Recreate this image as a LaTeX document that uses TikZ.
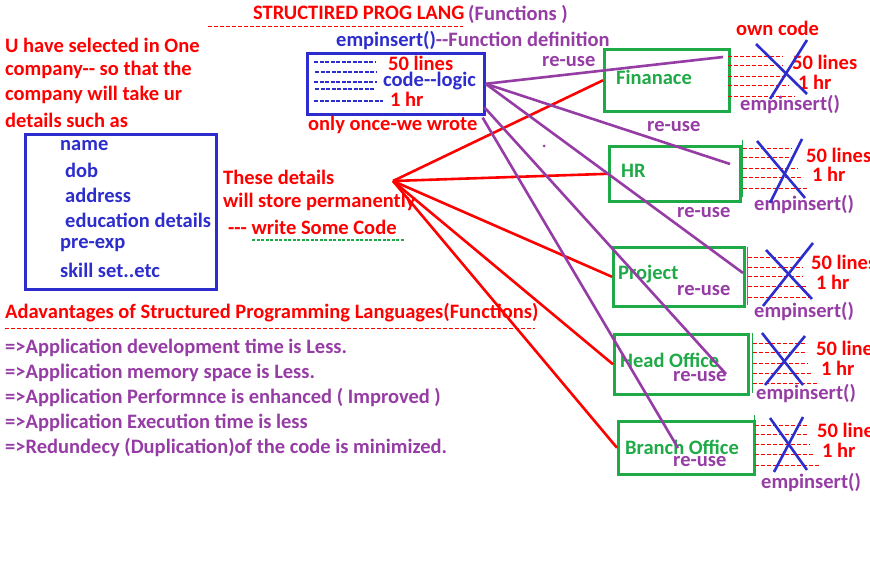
\documentclass[tikz,border=0pt]{standalone}
\usepackage{fontspec}
\setmainfont{Carlito}[Ligatures=TeXOff]
\usetikzlibrary{calc}
\definecolor{R}{RGB}{255,0,0}
\definecolor{B}{RGB}{45,45,205}
\definecolor{P}{RGB}{150,60,165}
\definecolor{G}{RGB}{30,170,70}
\tikzset{
  txt/.style={inner sep=0pt, anchor=west, font=\fontsize{20.5}{24}\selectfont\bfseries},
  rt/.style={txt, text=R},
  bt/.style={txt, text=B},
  pt/.style={txt, text=P},
  gt/.style={txt, text=G},
  gbox/.style={draw=G, line width=2.6pt, inner sep=0pt, anchor=north west},
  bbox/.style={draw=B, line width=2.6pt, inner sep=0pt, anchor=north west},
  rdash/.style={draw=R, line width=1pt, dash pattern=on 4pt off 2pt},
  bdash/.style={draw=B, line width=1.2pt, dash pattern=on 4pt off 1.5pt},
  rline/.style={draw=R, line width=2.6pt},
  pline/.style={draw=P, line width=2.6pt},
  xline/.style={draw=B, line width=2.6pt},
  thin/.style={draw=G, line width=1pt}
}
\begin{document}
\begin{tikzpicture}[x=1pt,y=-1pt]
\useasboundingbox (0,0) rectangle (870,564);
\clip (0,0) rectangle (870,564);
\fill[white] (0,0) rectangle (870,564);

% title
\node[rt] (title) at (253,13) {STRUCTIRED PROG LANG};
\node[pt] (titlef) at (468,14) {(Functions )};
\draw[rdash] (208,27) -- (463,27);

% code box
\node[txt] (fdef) at (336,41) {\color{B}empinsert()\color{P}--Function definition};
\node[bbox, minimum width=177pt, minimum height=61pt] (code) at (306,52) {};
\draw[bdash] (314,62) -- (376,62);
\draw[bdash] (315,72) -- (376,72);
\draw[bdash] (314,82) -- (377,82);
\draw[bdash] (315,89) -- (375,89);
\draw[bdash] (314,101) -- (383,101);
\node[rt] (c50) at (388,63) {50 lines};
\node[bt] (clogic) at (383,81) {code--logic};
\node[rt] (c1hr) at (390,99) {1 hr};
\node[rt] (once) at (308,125) {only once-we wrote};

% left text
\node[rt] (l1) at (5,45) {U have selected in One};
\node[rt] (l2) at (5,70) {company-- so that the};
\node[rt] (l3) at (5,95) {company will take ur};
\node[rt] (l4) at (5,120) {details such as};
\node[bbox, minimum width=191pt, minimum height=155pt] (det) at (24,133) {};
\node[bt] (d1) at (60,146) {name};
\node[bt] (d2) at (65,170) {dob};
\node[bt] (d3) at (65,195) {address};
\node[bt] (d4) at (65,220) {education details};
\node[bt] (d5) at (60,245) {pre-exp};
\node[bt] (d6) at (60,270) {skill set..etc};

\node[rt] (t1) at (223,177) {These details};
\node[rt] (t2) at (223,202) {will store permanently};
\node[rt] (t3) at (228,227) {--- write Some Code};
\draw[draw=G, line width=1pt, dash pattern=on 3pt off 1.5pt] (252,240) -- (405,240);

% advantages
\node[rt] (adv) at (5,313) {Adavantages of Structured Programming Languages(Functions)};
\draw[rdash] (5,328) -- (535,328);
\node[pt] (a1) at (5,348) {=>Application development time is Less.};
\node[pt] (a2) at (5,373) {=>Application memory space is Less.};
\node[pt] (a3) at (5,398) {=>Application Performnce is enhanced ( Improved )};
\node[pt] (a4) at (5,423) {=>Application Execution time is less};
\node[pt] (a5) at (5,448) {=>Redundecy (Duplication)of the code is minimized.};

% green boxes
\node[gbox, minimum width=125pt, minimum height=62pt] (fin) at (603,48) {};
\node[gbox, minimum width=131pt, minimum height=55pt] (hr) at (608,145) {};
\node[gbox, minimum width=131pt, minimum height=59pt] (proj) at (612,246) {};
\node[gbox, minimum width=134pt, minimum height=60pt] (head) at (613,333) {};
\node[gbox, minimum width=136pt, minimum height=53pt] (branch) at (617,420) {};
\node[gt] (finT) at (616,77) {Finanace};
\node[gt] (hrT) at (621,171) {HR};
\node[gt] (projT) at (618,274) {Project};
\node[gt] (headT) at (620,360) {Head Office};
\node[gt] (branchT) at (625,447) {Branch Office};
\draw[thin] (742,140) -- (742,197);
\draw[thin] (747,247) -- (747,305);
\draw[thin] (752,333) -- (752,393);
\draw[thin] (754,415) -- (754,470);

% re-use labels
\node[pt] (ru1) at (542,62) {re-use};
\node[pt] (ru2) at (647,127) {re-use};
\node[pt] (ru3) at (677,213) {re-use};
\node[pt] (ru4) at (677,291) {re-use};
\node[pt] (ru5) at (673,377) {re-use};
\node[pt] (ru6) at (673,462) {re-use};

% red connectors
\coordinate (hub) at (393,181);
\draw[rline] (hub) -- (fin.west);
\draw[rline] (hub) -- (hr.west);
\draw[rline] (hub) -- (proj.west);
\draw[rline] (hub) -- (head.west);
\draw[rline] (hub) -- (branch.west);

% purple connectors
\coordinate (pfin) at (723,57);
\coordinate (phr) at (730,164);
\coordinate (pproj) at (743,273);
\coordinate (phead) at (726,374);
\coordinate (pbranch) at (678,448);
\draw[pline] (code.east) -- (pfin);
\draw[pline] (code.east) -- (phr);
\draw[pline] (code.east) -- (pproj);
\draw[pline] ($(code.south east)+(-1,-8)$) -- (phead);
\draw[pline] ($(code.south east)+(-3,2)$) -- (pbranch);
\fill[P] (544,146) circle (1.5pt);

% own code
\node[rt] (own) at (736,28) {own code};

% Finanace strike
\draw[rdash] (728,57) -- (783,57);
\draw[rdash] (728,66) -- (783,66);
\draw[rdash] (728,77) -- (789,77);
\draw[rdash] (728,86) -- (789,86);
\draw[rdash] (728,97) -- (795,97);
\node[rt] (f50) at (792,62) {50 lines};
\node[rt] (f1) at (798,82) {1 hr};
\node[pt] (fe) at (740,105) {empinsert()};
\draw[xline] (756,44) -- (807,94);
\draw[xline] (807,40) -- (770,99);

% HR strike
\draw[rdash] (743,149) -- (792,149);
\draw[rdash] (743,158) -- (792,158);
\draw[rdash] (743,169) -- (798,169);
\draw[rdash] (743,178) -- (803,178);
\draw[rdash] (743,189) -- (808,189);
\node[rt] (h50) at (806,155) {50 lines};
\node[rt] (h1) at (812,174) {1 hr};
\node[pt] (he) at (754,205) {empinsert()};
\draw[xline] (757,141) -- (805,198);
\draw[xline] (802,139) -- (770,203);

% Project strike
\draw[rdash] (748,257) -- (803,257);
\draw[rdash] (748,267) -- (803,267);
\draw[rdash] (748,276) -- (803,276);
\draw[rdash] (748,286) -- (808,286);
\draw[rdash] (748,297) -- (813,297);
\node[rt] (p50) at (811,262) {50 lines};
\node[rt] (p1) at (816,282) {1 hr};
\node[pt] (pe) at (754,312) {empinsert()};
\draw[xline] (766,250) -- (812,299);
\draw[xline] (813,243) -- (763,306);

% Head Office strike
\draw[rdash] (753,343) -- (807,343);
\draw[rdash] (753,352) -- (807,352);
\draw[rdash] (753,363) -- (808,363);
\draw[rdash] (753,373) -- (812,373);
\draw[rdash] (753,383) -- (819,383);
\node[rt] (o50) at (816,348) {50 lines};
\node[rt] (o1) at (821,368) {1 hr};
\node[pt] (oe) at (756,394) {empinsert()};
\draw[xline] (762,333) -- (803,385);
\draw[xline] (805,336) -- (765,385);

% Branch Office strike
\draw[rdash] (755,425) -- (808,425);
\draw[rdash] (755,434) -- (808,434);
\draw[rdash] (755,444) -- (810,444);
\draw[rdash] (755,454) -- (814,454);
\draw[rdash] (755,465) -- (820,465);
\node[rt] (b50) at (817,430) {50 lines};
\node[rt] (b1) at (822,450) {1 hr};
\node[pt] (be) at (761,483) {empinsert()};
\draw[xline] (770,418) -- (807,470);
\draw[xline] (803,417) -- (774,472);
\end{tikzpicture}
\end{document}
